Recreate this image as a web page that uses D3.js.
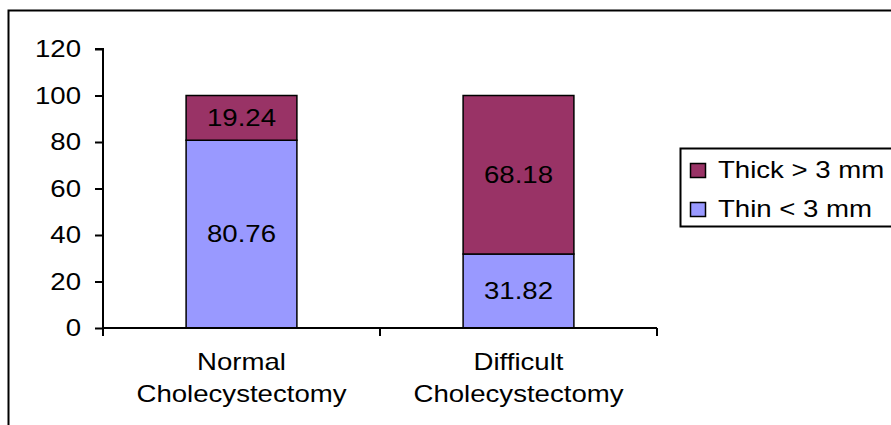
<!DOCTYPE html>
<html><head><meta charset="utf-8">
<script src="https://cdn.jsdelivr.net/npm/d3@7"></script>
<style>body{margin:0;background:#fff}svg{display:block}text{font-family:"Liberation Sans",Arial,sans-serif;fill:#000}</style>
</head><body>
<script>
const categories = [["Normal","Cholecystectomy"],["Difficult","Cholecystectomy"]];
const thinValues = [80.76, 31.82];
const thickValues = [19.24, 68.18];
const seriesNames = ["Thick > 3 mm", "Thin < 3 mm"];
const seriesColors = ["#993366", "#9999FF"];
const yTicks = [0, 20, 40, 60, 80, 100, 120];

const W = 891, H = 425;
const FS = 23, SX = 1.2;
const svg = d3.select("body").append("svg").attr("width", W).attr("height", H);

function addText(parent, tx, ty, str, anchor, dy) {
  return parent.append("text")
    .attr("transform", `translate(${tx},${ty}) scale(${SX},1)`)
    .attr("text-anchor", anchor || "start")
    .attr("dy", dy || 0)
    .attr("font-size", FS)
    .text(str);
}

// outer frame (cropped)
svg.append("path").attr("d", `M8.5,${H} V10.5 H${W}`).attr("fill","none").attr("stroke","#000").attr("stroke-width",2);

const x = d3.scaleBand().domain([0,1]).range([103, 657]).paddingInner(0).paddingOuter(0);
const y = d3.scaleLinear().domain([0,120]).range([328, 49]);
const bw = x.bandwidth()*0.4;

const g = svg.append("g");
const stacks = categories.map((c,i)=>({i, thin: thinValues[i], thick: thickValues[i]}));
stacks.forEach(s=>{
  const cx = x(s.i) + x.bandwidth()/2;
  g.append("rect").attr("x", cx-bw/2).attr("y", y(s.thin)).attr("width", bw).attr("height", y(0)-y(s.thin))
   .attr("fill", seriesColors[1]).attr("stroke","#000").attr("stroke-width",1.5);
  g.append("rect").attr("x", cx-bw/2).attr("y", y(s.thin+s.thick)).attr("width", bw).attr("height", y(s.thin)-y(s.thin+s.thick))
   .attr("fill", seriesColors[0]).attr("stroke","#000").attr("stroke-width",1.5);
  addText(g, cx, y(s.thin/2), s.thin.toFixed(2), "middle", "0.36em");
  addText(g, cx, y(s.thin+s.thick/2), s.thick.toFixed(2), "middle", "0.36em");
});

// y axis
const ya = svg.append("g").attr("transform","translate(103,0)").call(d3.axisLeft(y).tickValues(yTicks).tickSize(8).tickFormat(""));
ya.select(".domain").attr("stroke-width",2).attr("d", `M-8,${y(120)}H0V${y(0)}`);
ya.selectAll(".tick line").attr("stroke-width",2);
yTicks.forEach(t => addText(svg, 81, y(t), String(t), "end", "0.36em"));

// x axis
const xa = svg.append("g").attr("transform",`translate(0,${y(0)})`);
xa.append("path").attr("d", `M103,0H657`).attr("stroke","#000").attr("stroke-width",2);
[103, x(1), 657].forEach(v=> xa.append("line").attr("x1",v).attr("x2",v).attr("y1",0).attr("y2",8).attr("stroke","#000").attr("stroke-width",2));
categories.forEach((c,i)=>{
  c.forEach((line,k)=> addText(xa, x(i)+x.bandwidth()/2, 42 + k*32, line, "middle"));
});

// legend
const lg = svg.append("g");
lg.append("path").attr("d", `M${W},148.5 H680.5 V226.5 H${W}`).attr("fill","none").attr("stroke","#000").attr("stroke-width",2);
seriesNames.forEach((n,i)=>{
  const yy = 163.5 + i*39;
  lg.append("rect").attr("x",690.5).attr("y",yy).attr("width",15).attr("height",14).attr("fill",seriesColors[i]).attr("stroke","#000").attr("stroke-width",1.5);
  addText(lg, 718, yy+14, n, "start");
});
</script>
</body></html>
